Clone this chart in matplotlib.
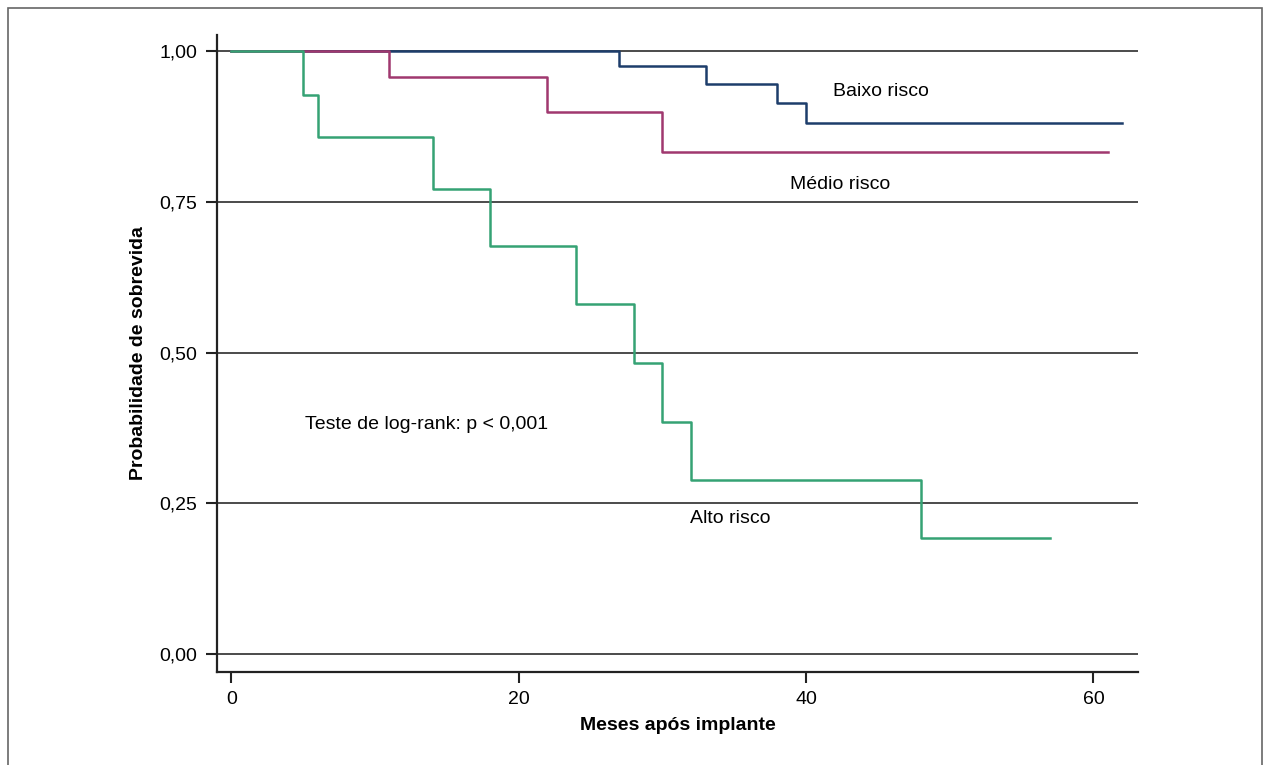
import numpy as np
import matplotlib.pyplot as plt
from matplotlib.patches import Rectangle

plt.rcParams['font.family'] = ['Liberation Sans Narrow', 'Liberation Sans', 'DejaVu Sans']

#### Dados (Kaplan-Meier) ####

baixo_t = [0, 27, 33, 38, 40, 62]
baixo_s = [1.0, 0.975, 0.945, 0.915, 0.881, 0.881]

medio_t = [0, 11, 22, 30, 61]
medio_s = [1.0, 0.957, 0.900, 0.833, 0.833]

alto_t = [0, 5, 6, 14, 18, 24, 28, 30, 32, 48, 57]
alto_s = [1.0, 0.927, 0.857, 0.771, 0.677, 0.580, 0.483, 0.385, 0.289, 0.192, 0.192]

yticks = [0.0, 0.25, 0.5, 0.75, 1.0]
ylabels = ['0,00', '0,25', '0,50', '0,75', '1,00']
xticks = [0, 20, 40, 60]

#### Figure ####

fig = plt.figure(figsize=(12.66, 7.65), dpi=100)
ax = fig.add_axes([0.1714, 0.1216, 0.7275, 0.8326])

# cadre gris autour de la figure
fig.patches.append(Rectangle((8/1266, -0.02), 1254/1266, 1.02 - 8/765,
                             transform=fig.transFigure, fill=False,
                             edgecolor='#666666', lw=1.2))

for y in yticks:
    ax.axhline(y, color='#1a1a1a', lw=1.1, zorder=1)

ax.step(baixo_t, baixo_s, where='post', color='#1d3d6b', lw=1.8, zorder=3)
ax.step(medio_t, medio_s, where='post', color='#a0386f', lw=1.8, zorder=4)
ax.step(alto_t, alto_s, where='post', color='#35a274', lw=1.8, zorder=5)

ax.text(41.9, 0.934, 'Baixo risco', fontsize=14, va='center', ha='left')
ax.text(38.9, 0.779, 'Médio risco', fontsize=14, va='center', ha='left')
ax.text(5.1, 0.381, 'Teste de log-rank: p < 0,001', fontsize=14, va='center', ha='left')
ax.text(31.9, 0.224, 'Alto risco', fontsize=14, va='center', ha='left')

ax.set_xlim(-1, 63.1)
ax.set_ylim(-0.03, 1.027)
ax.set_xticks(xticks)
ax.set_xticklabels([str(x) for x in xticks])
ax.set_yticks(yticks)
ax.set_yticklabels(ylabels)
ax.tick_params(axis='both', labelsize=14, width=1.5, length=8, color='#222222')
ax.tick_params(axis='y', pad=6)
ax.tick_params(axis='x', pad=6)

for s in ['top', 'right']:
    ax.spines[s].set_visible(False)
for s in ['left', 'bottom']:
    ax.spines[s].set_linewidth(1.6)
    ax.spines[s].set_color('#222222')

ax.set_xlabel('Meses após implante', fontsize=14, fontweight='bold', labelpad=6)
ax.set_ylabel('Probabilidade de sobrevida', fontsize=14, fontweight='bold', labelpad=9)

fig.savefig('out.png', dpi=100)
